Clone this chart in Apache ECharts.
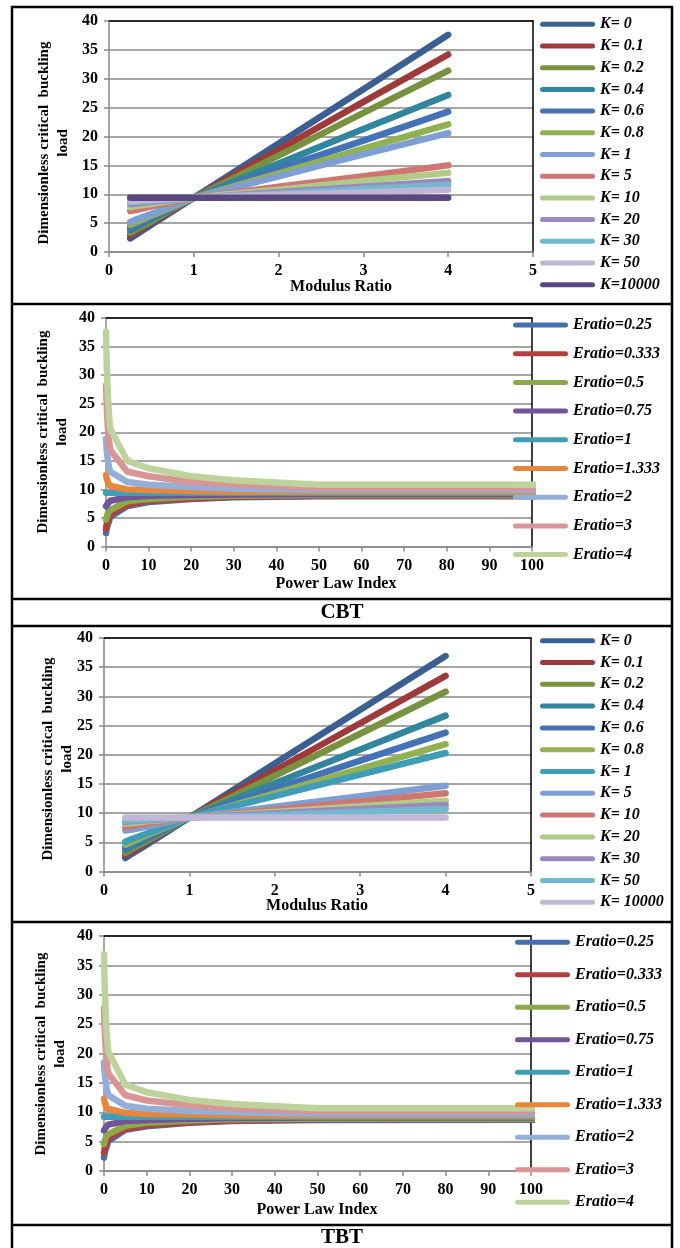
<!DOCTYPE html>
<html>
<head>
<meta charset="utf-8">
<script src="https://cdn.jsdelivr.net/npm/echarts@6/dist/echarts.min.js"></script>
<style>
html, body { margin: 0; padding: 0; background: #fff; }
#container { width: 680px; height: 1248px; }
</style>
</head>
<body>
<div id="container"></div>
<script>
// modulus ratios (x of panels 1 and 3, one series each in panels 2 and 4)
var eRatio = [0.25, 0.333, 0.5, 0.75, 1, 1.333, 2, 3, 4];
// power law indices (one series each in panels 1 and 3, x of panels 2 and 4)
var kIndex = [0, 0.1, 0.2, 0.4, 0.6, 0.8, 1, 5, 10, 20, 30, 50, 10000];

var kNamesCbt = ['K= 0', 'K= 0.1', 'K= 0.2', 'K= 0.4', 'K= 0.6', 'K= 0.8', 'K= 1',
    'K= 5', 'K= 10', 'K= 20', 'K= 30', 'K= 50', 'K=10000'];
var kNamesTbt = ['K= 0', 'K= 0.1', 'K= 0.2', 'K= 0.4', 'K= 0.6', 'K= 0.8', 'K= 1',
    'K= 5', 'K= 10', 'K= 20', 'K= 30', 'K= 50', 'K= 10000'];
var eNames = ['Eratio=0.25', 'Eratio=0.333', 'Eratio=0.5', 'Eratio=0.75', 'Eratio=1',
    'Eratio=1.333', 'Eratio=2', 'Eratio=3', 'Eratio=4'];

// dimensionless critical buckling load, rows = kIndex, columns = eRatio
var cbtLoad = [
    [2.35, 3.13, 4.7, 7.05, 9.4, 12.53, 18.8, 28.2, 37.6],
    [2.9, 3.6, 5.1, 7.2, 9.4, 12.2, 17.7, 26.0, 34.2],
    [3.3, 4.0, 5.3, 7.4, 9.4, 11.8, 16.7, 24.1, 31.4],
    [3.8, 4.4, 5.7, 7.5, 9.4, 11.4, 15.3, 21.3, 27.2],
    [4.2, 4.8, 5.9, 7.7, 9.4, 11.0, 14.4, 19.3, 24.3],
    [4.7, 5.2, 6.3, 7.8, 9.4, 10.8, 13.6, 17.9, 22.1],
    [5.2, 5.7, 6.6, 8.0, 9.4, 10.6, 13.1, 16.9, 20.6],
    [7.1, 7.3, 7.9, 8.6, 9.4, 10.0, 11.3, 13.1, 15.0],
    [7.8, 8.0, 8.3, 8.9, 9.4, 9.9, 10.8, 12.3, 13.7],
    [8.3, 8.4, 8.7, 9.0, 9.4, 9.7, 10.4, 11.3, 12.3],
    [8.6, 8.7, 8.9, 9.1, 9.4, 9.6, 10.1, 10.9, 11.6],
    [8.8, 8.9, 9.0, 9.2, 9.4, 9.6, 9.9, 10.3, 10.8],
    [9.4, 9.4, 9.4, 9.4, 9.4, 9.4, 9.4, 9.4, 9.4]
];
var tbtLoad = [
    [2.3, 3.1, 4.6, 6.9, 9.25, 12.3, 18.5, 27.7, 36.9],
    [2.8, 3.5, 5.0, 7.1, 9.25, 12.0, 17.3, 25.4, 33.5],
    [3.2, 3.9, 5.2, 7.2, 9.25, 11.6, 16.4, 23.6, 30.8],
    [3.7, 4.3, 5.6, 7.4, 9.25, 11.2, 15.1, 20.9, 26.7],
    [4.1, 4.7, 5.8, 7.5, 9.25, 10.9, 14.1, 19.0, 23.8],
    [4.6, 5.1, 6.2, 7.7, 9.25, 10.6, 13.4, 17.6, 21.8],
    [5.1, 5.6, 6.5, 7.9, 9.25, 10.5, 12.9, 16.6, 20.3],
    [7.0, 7.2, 7.7, 8.5, 9.25, 9.9, 11.1, 12.9, 14.7],
    [7.6, 7.8, 8.2, 8.7, 9.25, 9.7, 10.6, 12.0, 13.4],
    [8.2, 8.3, 8.6, 8.9, 9.25, 9.6, 10.2, 11.2, 12.1],
    [8.5, 8.6, 8.8, 9.0, 9.25, 9.5, 10.0, 10.7, 11.4],
    [8.7, 8.8, 8.9, 9.1, 9.25, 9.4, 9.7, 10.2, 10.7],
    [9.25, 9.25, 9.25, 9.25, 9.25, 9.25, 9.25, 9.25, 9.25]
];

var kColorsCbt = ['#3a5f93', '#a0393a', '#779340', '#31859c', '#4472b8', '#92b251', '#7d9fd3',
    '#cf7673', '#afcb86', '#9b88bf', '#72b9cf', '#bfb6d5', '#5b4782'];
var kColorsTbt = ['#3a5f93', '#a0393a', '#779340', '#31859c', '#4472b8', '#92b251', '#3f9eb6',
    '#7d9fd3', '#cf7673', '#afcb86', '#9b88bf', '#72b9cf', '#c0b8d6'];
var eColors = ['#4370ae', '#b4403d', '#8aaa49', '#715598', '#3f9eb6', '#e8873a', '#93aed8',
    '#d99594', '#bdd39c'];

var serif = "'Liberation Serif', 'Times New Roman', serif";
var myChart = echarts.init(document.getElementById('container'));

// plot rectangles and legend placement of the four charts
var panels = [
    { left: 109, top: 21, width: 424, height: 231, xMax: 5, xStep: 1, legendLeft: 540, legendTop: 16.3, legendGap: 5.7 },
    { left: 106, top: 318, width: 426, height: 228.5, xMax: 100, xStep: 10, legendLeft: 513, legendTop: 317, legendGap: 12.7 },
    { left: 104, top: 638, width: 427, height: 233.5, xMax: 5, xStep: 1, legendLeft: 540, legendTop: 632.7, legendGap: 5.8 },
    { left: 104, top: 936, width: 427, height: 235, xMax: 100, xStep: 10, legendLeft: 515, legendTop: 934.3, legendGap: 16.5 }
];

var grids = [], xAxes = [], yAxes = [], legends = [], series = [];
var gray = '#898989';
var tickFont = { color: '#000', fontFamily: serif, fontWeight: 'bold', fontSize: 16 };

panels.forEach(function (p, i) {
    grids.push({ left: p.left, top: p.top, width: p.width, height: p.height, containLabel: false, outerBoundsMode: 'none' });
    xAxes.push({
        type: 'value', gridIndex: i, min: 0, max: p.xMax, interval: p.xStep,
        axisLine: { show: true, onZero: false, lineStyle: { color: gray, width: 1.5 } },
        axisTick: { show: true, length: 5, lineStyle: { color: gray, width: 1.5 } },
        axisLabel: Object.assign({ margin: 11 }, tickFont),
        splitLine: { show: false }
    });
    xAxes.push({
        type: 'value', gridIndex: i, position: 'top', min: 0, max: p.xMax,
        axisLine: { show: true, onZero: false, lineStyle: { color: '#000', width: 1.5 } },
        axisTick: { show: false }, axisLabel: { show: false }, splitLine: { show: false }
    });
    yAxes.push({
        type: 'value', gridIndex: i, min: 0, max: 40, interval: 5,
        axisLine: { show: true, onZero: false, lineStyle: { color: gray, width: 1.5 } },
        axisTick: { show: true, length: 5, lineStyle: { color: gray, width: 1.5 } },
        axisLabel: Object.assign({ margin: 11 }, tickFont),
        splitLine: { show: true, lineStyle: { color: gray, width: 1.5 } }
    });
    yAxes.push({
        type: 'value', gridIndex: i, position: 'right', min: 0, max: 40,
        axisLine: { show: true, onZero: false, lineStyle: { color: '#000', width: 1.5 } },
        axisTick: { show: false }, axisLabel: { show: false }, splitLine: { show: false }
    });
});

function addLine(panel, name, color, data) {
    series.push({
        name: panel + '|' + name,
        type: 'line',
        xAxisIndex: panel * 2,
        yAxisIndex: panel * 2,
        data: data,
        symbol: 'none',
        showSymbol: false,
        color: color,
        lineStyle: { width: 6.5, color: color, cap: 'round', join: 'round' }
    });
    return panel + '|' + name;
}

function buildPanels(table, kNames, kColors, pK, pE) {
    var kLegend = [], eLegend = [];
    kIndex.forEach(function (k, r) {
        kLegend.push(addLine(pK, kNames[r], kColors[r],
            eRatio.map(function (e, j) { return [e, table[r][j]]; })));
    });
    eRatio.forEach(function (e, j) {
        eLegend.push(addLine(pE, eNames[j], eColors[j],
            kIndex.map(function (k, r) { return [k, table[r][j]]; })));
    });
    return [kLegend, eLegend];
}

var cbt = buildPanels(cbtLoad, kNamesCbt, kColorsCbt, 0, 1);
var tbt = buildPanels(tbtLoad, kNamesTbt, kColorsTbt, 2, 3);
var legendNames = [cbt[0], cbt[1], tbt[0], tbt[1]];

panels.forEach(function (p, i) {
    legends.push({
        orient: 'vertical',
        left: p.legendLeft, top: p.legendTop,
        padding: 0,
        itemGap: p.legendGap,
        itemWidth: 55, itemHeight: 5,
        icon: 'path://M2.5,0 H52.5 A2.5,2.5 0 0 1 52.5,5 H2.5 A2.5,2.5 0 0 1 2.5,0 Z',
        selectedMode: false,
        data: legendNames[i],
        formatter: function (n) { return n.split('|')[1]; },
        textStyle: { color: '#000', fontFamily: serif, fontWeight: 'bold', fontStyle: 'italic', fontSize: 16, lineHeight: 16 }
    });
});

// table borders and texts around the charts
var graphics = [];
[7, 304, 599, 626, 922, 1225].forEach(function (y) {
    graphics.push({ type: 'line', shape: { x1: 11, y1: y, x2: 673, y2: y }, style: { stroke: '#000', lineWidth: 2.5 } });
});
[12, 672].forEach(function (x) {
    graphics.push({ type: 'line', shape: { x1: x, y1: 6, x2: x, y2: 1248 }, style: { stroke: '#000', lineWidth: 2.5 } });
});

function label(text, x, y, size, rot) {
    graphics.push({
        type: 'text', x: x, y: y, rotation: rot || 0,
        style: {
            text: text, fill: '#000', font: 'bold ' + size + 'px ' + serif,
            textAlign: 'center', textVerticalAlign: 'middle', align: 'center', verticalAlign: 'middle',
            lineHeight: 19
        }
    });
}
var yTitle = 'Dimensionless critical  buckling\nload';
label('Modulus Ratio', 341, 287, 16);
label('Power Law Index', 336, 584, 16);
label('Modulus Ratio', 317, 906, 16);
label('Power Law Index', 317, 1210, 16);
label(yTitle, 53.5, 143, 15, Math.PI / 2);
label(yTitle, 52.5, 432, 15, Math.PI / 2);
label(yTitle, 57.5, 759, 15, Math.PI / 2);
label(yTitle, 50.5, 1054, 15, Math.PI / 2);
label('CBT', 342, 613, 21);
label('TBT', 342, 1238, 21);

var option = {
    animation: false,
    backgroundColor: '#fff',
    grid: grids,
    xAxis: xAxes,
    yAxis: yAxes,
    legend: legends,
    series: series,
    graphic: graphics
};
myChart.setOption(option);
</script>
</body>
</html>
